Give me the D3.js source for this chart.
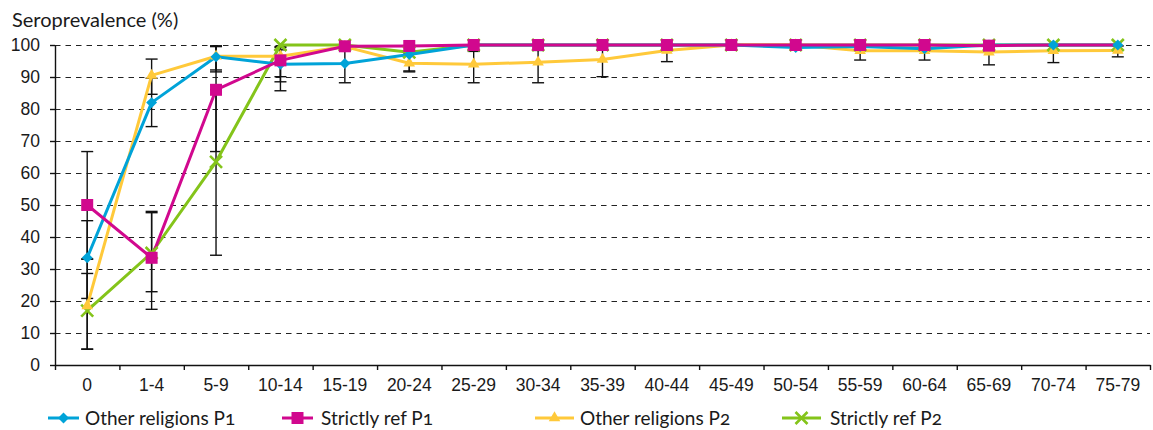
<!DOCTYPE html>
<html>
<head>
<meta charset="utf-8">
<script src="https://cdn.jsdelivr.net/npm/d3@7"></script>
<style>
  body { margin: 0; background: #fff; }
  svg { display: block; font-family: Lato, "Open Sans", sans-serif; font-variant-numeric: oldstyle-nums; }
</style>
</head>
<body>
<svg id="chart" width="1153" height="430"></svg>
<script>
// Age groups on the x axis
const categories = ["0", "1-4", "5-9", "10-14", "15-19", "20-24", "25-29", "30-34", "35-39",
  "40-44", "45-49", "50-54", "55-59", "60-64", "65-69", "70-74", "75-79"];

// Y axis tick values (%)
const yTicks = [0, 10, 20, 30, 40, 50, 60, 70, 80, 90, 100];

// Seroprevalence (%) and 95% confidence limits per series
const otherP1   = [33.5, 82, 96.3, 94, 94.2, 97, 100, 100, 100, 100, 100, 99.2, 99.5, 98.8, 100, 100, 100];
const otherP1Lo = [20.8, 74.5, 92.2, 88.5, 88.2, 91.9, null, null, null, null, null, null, null, null, null, null, null];
const otherP1Hi = [45.1, 89.6, 99.5, 98.5, 98.3, 99.5, null, null, null, null, null, null, null, null, null, null, null];

const strictP1   = [50, 33.5, 86, 95.2, 99.6, 99.7, 100, 100, 100, 100, 100, 100, 100, 100, 99.8, 100, 100];
const strictP1Lo = [33.1, 17.4, 66.7, 85.7, null, null, null, null, null, null, null, null, null, null, null, null, null];
const strictP1Hi = [66.7, 47.6, 99.7, 99.2, null, null, null, null, null, null, null, null, null, null, null, null, null];
// age groups plotted without a marker for this series
const strictP1NoMarker = ["70-74", "75-79"];

const otherP2   = [18.5, 90.5, 96.5, 96.5, 99.5, 94.3, 94, 94.6, 95.5, 98.3, 100, 100, 98.2, 98.2, 97.8, 98.2, 98.3];
const otherP2Lo = [4.9, 84.6, 91.6, 90.1, null, 91.6, 88.2, 88.2, 90.1, 94.8, null, null, 95.3, 95.3, 93.8, 94.5, 96.3];
const otherP2Hi = [33.1, 95.6, 99.7, 99.5, null, 97.5, 98, 98.3, 98.5, 99.8, null, null, 99.6, 99.6, 99.4, 99.6, 99.7];

const strictP2   = [17, 35, 63.5, 100, 100, 97.7, 100, 100, 100, 100, 100, 100, 100, 100, 100, 100, 100];
const strictP2Lo = [5, 22.9, 34.3, null, null, null, null, null, null, null, null, null, null, null, null, null, null];
const strictP2Hi = [28.6, 48, 86, null, null, null, null, null, null, null, null, null, null, null, null, null, null];

const seriesNames = ["Other religions P1", "Strictly ref P1", "Other religions P2", "Strictly ref P2"];

// ---- styling ----
const colors = {
  otherP1: "#00a3d8",
  strictP1: "#d1088e",
  otherP2: "#ffc93a",
  strictP2: "#84c41a"
};
const textColor = "#1a1a1a";

const svg = d3.select("#chart");
const plot = { left: 55, right: 1150, top: 45, bottom: 365 };

const x = d3.scaleBand().domain(categories).range([plot.left, plot.right]);
const xEdge = d3.scaleLinear().domain([0, categories.length]).range([plot.left, plot.right]);
const y = d3.scaleLinear().domain([0, 100]).range([plot.bottom, plot.top]);
const cx = c => x(c) + x.bandwidth() / 2;

// series drawn bottom to top
const series = [
  { key: "strictP2", name: seriesNames[3], values: strictP2, lo: strictP2Lo, hi: strictP2Hi, marker: "x" },
  { key: "otherP2", name: seriesNames[2], values: otherP2, lo: otherP2Lo, hi: otherP2Hi, marker: "triangle" },
  { key: "otherP1", name: seriesNames[0], values: otherP1, lo: otherP1Lo, hi: otherP1Hi, marker: "diamond" },
  { key: "strictP1", name: seriesNames[1], values: strictP1, lo: strictP1Lo, hi: strictP1Hi, marker: "square", skip: strictP1NoMarker }
];

// ---- gridlines ----
svg.append("g")
  .selectAll("line")
  .data(yTicks.filter(v => v > 0))
  .join("line")
  .attr("x1", plot.left)
  .attr("x2", plot.right)
  .attr("y1", d => Math.round(y(d)) + 0.5)
  .attr("y2", d => Math.round(y(d)) + 0.5)
  .attr("stroke", "#222")
  .attr("stroke-width", 1.2)
  .attr("stroke-dasharray", "5.5,5");

// ---- axes ----
const yAxis = svg.append("g")
  .attr("transform", `translate(${plot.left},0)`)
  .call(d3.axisLeft(y).tickValues(yTicks).tickSize(5).tickSizeOuter(0).tickPadding(10));
yAxis.select(".domain").attr("stroke", "#111").attr("stroke-width", 1.4);
yAxis.selectAll(".tick line").attr("stroke", "#111").attr("stroke-width", 1.4);
yAxis.selectAll("text").attr("fill", textColor).style("font-size", "17.5px");

const xTicks = svg.append("g")
  .attr("transform", `translate(0,${plot.bottom})`)
  .call(d3.axisBottom(xEdge).tickValues(d3.range(0, categories.length + 1)).tickSize(5).tickSizeOuter(0).tickFormat(""));
xTicks.select(".domain").attr("stroke", "#111").attr("stroke-width", 1.4);
xTicks.selectAll(".tick line").attr("stroke", "#111").attr("stroke-width", 1.4);

const xLabels = svg.append("g")
  .attr("transform", `translate(0,${plot.bottom})`)
  .call(d3.axisBottom(x).tickSize(0).tickPadding(14));
xLabels.select(".domain").remove();
xLabels.selectAll("text").attr("fill", textColor).style("font-size", "17.5px");

// ---- axis title ----
svg.append("text")
  .attr("x", 12)
  .attr("y", 27)
  .attr("fill", textColor)
  .style("font-size", "20px")
  .text("Seroprevalence (%)");

// ---- error bars ----
const capHalf = 6;
const eb = svg.append("g").attr("stroke", "#111").attr("stroke-width", 1.4);
series.forEach(s => {
  s.values.forEach((v, i) => {
    const lo = s.lo[i], hi = s.hi[i];
    if (lo == null || hi == null) return;
    const px = cx(categories[i]);
    eb.append("line").attr("x1", px).attr("x2", px).attr("y1", y(lo)).attr("y2", y(hi));
    [lo, hi].forEach(b => {
      eb.append("line").attr("x1", px - capHalf).attr("x2", px + capHalf).attr("y1", y(b)).attr("y2", y(b));
    });
  });
});

// ---- lines ----
const line = d3.line().x((d, i) => cx(categories[i])).y(d => y(d));
svg.append("g")
  .selectAll("path")
  .data(series)
  .join("path")
  .attr("d", s => line(s.values))
  .attr("fill", "none")
  .attr("stroke", s => colors[s.key])
  .attr("stroke-width", 3)
  .attr("stroke-linejoin", "round");

// ---- markers ----
function drawMarker(g, type, color) {
  if (type === "x") {
    g.append("path")
      .attr("d", "M-6,-6L6,6M-6,6L6,-6")
      .attr("stroke", color)
      .attr("stroke-width", 2.6)
      .attr("fill", "none");
  } else {
    const sym = {
      diamond: d3.symbol(d3.symbolDiamond2, 76),
      square: d3.symbol(d3.symbolSquare, 144),
      triangle: d3.symbol(d3.symbolTriangle, 58)
    }[type];
    g.append("path").attr("d", sym()).attr("fill", color);
  }
}

series.forEach(s => {
  const g = svg.append("g");
  s.values.forEach((v, i) => {
    if (s.skip && s.skip.includes(categories[i])) return;
    const mg = g.append("g").attr("transform", `translate(${cx(categories[i])},${y(v)})`);
    drawMarker(mg, s.marker, colors[s.key]);
  });
});

// ---- legend ----
const legendY = 418;
const legendItems = [
  { key: "otherP1", marker: "diamond", x0: 48, x1: 79, tx: 85, name: seriesNames[0] },
  { key: "strictP1", marker: "square", x0: 282, x1: 313, tx: 321, name: seriesNames[1] },
  { key: "otherP2", marker: "triangle", x0: 535, x1: 574, tx: 580, name: seriesNames[2] },
  { key: "strictP2", marker: "x", x0: 782, x1: 821, tx: 830, name: seriesNames[3] }
];
const legend = svg.append("g");
legendItems.forEach(it => {
  legend.append("line")
    .attr("x1", it.x0).attr("x2", it.x1)
    .attr("y1", legendY).attr("y2", legendY)
    .attr("stroke", colors[it.key]).attr("stroke-width", 3);
  const mg = legend.append("g").attr("transform", `translate(${(it.x0 + it.x1) / 2},${legendY})`);
  drawMarker(mg, it.marker, colors[it.key]);
  legend.append("text")
    .attr("x", it.tx)
    .attr("y", legendY + 6.5)
    .attr("fill", textColor)
    .style("font-size", "19px")
    .text(it.name);
});
</script>
</body>
</html>
